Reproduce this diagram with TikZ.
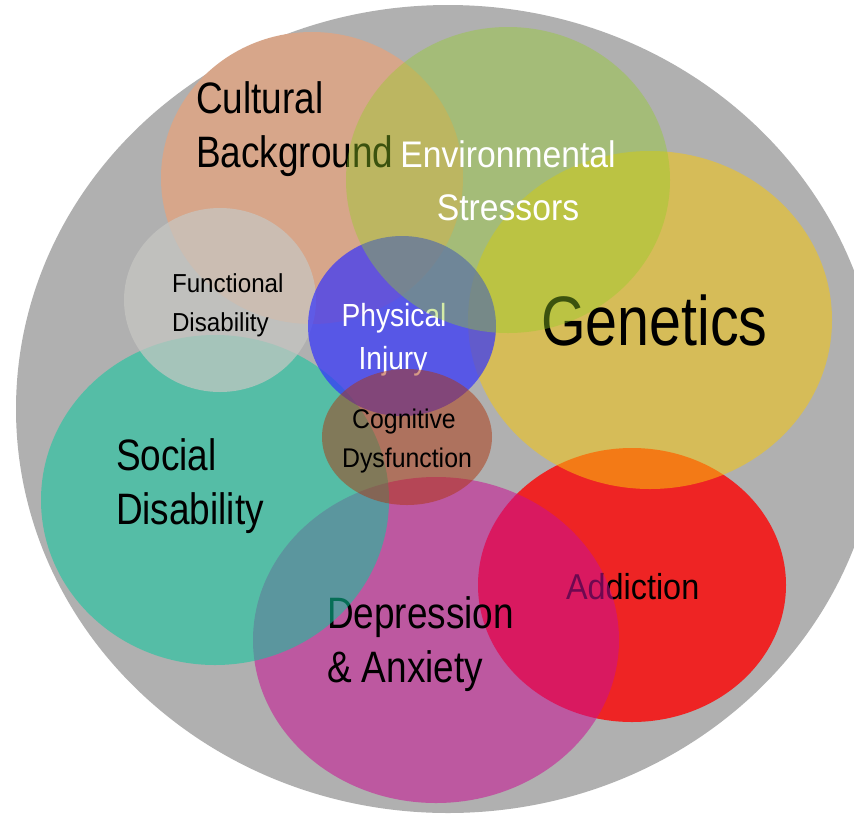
\documentclass[tikz,border=0pt]{standalone}
\usepackage{fontspec}
\setmainfont{Liberation Sans}
\usepackage{graphicx}
\definecolor{bggray}{RGB}{176,176,176}
\definecolor{addc}{RGB}{238,36,36}
\definecolor{depc}{RGB}{201,16,147}
\definecolor{socc}{RGB}{12,201,158}
\definecolor{genc}{RGB}{248,199,10}
\definecolor{culc}{RGB}{215,166,138}
\definecolor{func}{RGB}{199,199,195}
\definecolor{phyc}{RGB}{50,50,253}
\definecolor{envc}{RGB}{148,206,36}
\definecolor{cogc}{RGB}{174,54,14}
\tikzset{
  lbl/.style={inner sep=0pt, outer sep=0pt, text=black},
  lblw/.style={lbl, text=white},
  sz/.style={font=\fontsize{#1}{#1}\selectfont},
}
\begin{document}
\begin{tikzpicture}[x=1pt,y=-1pt]
\clip (0,0) rectangle (854,815);
\fill[white] (0,0) rectangle (854,815);
% outer gray
\fill[bggray] (448,409) ellipse [x radius=432, y radius=404];
% Addiction
\fill[addc] (632,585) ellipse [x radius=154, y radius=137];
\node[lbl, sz=36, anchor=base west] (add1) at (566,599) {\scalebox{0.9}[1]{Addiction}};
% Depression & Anxiety
\fill[depc, fill opacity=0.55] (436,640) ellipse [x radius=183, y radius=163];
\node[lbl, sz=44, anchor=base west] (dep1) at (327,628) {\scalebox{0.84}[1]{Depression}};
\node[lbl, sz=44, anchor=base west] (dep2) at (327,682) {\scalebox{0.84}[1]{\& Anxiety}};
% Social Disability
\fill[socc, fill opacity=0.55] (215,500) ellipse [x radius=174, y radius=165];
\node[lbl, sz=44, anchor=base west] (soc1) at (116,470) {\scalebox{0.84}[1]{Social}};
\node[lbl, sz=44, anchor=base west] (soc2) at (116,524) {\scalebox{0.84}[1]{Disability}};
% Genetics
\fill[genc, fill opacity=0.53] (650,320) ellipse [x radius=182, y radius=169];
\node[lbl, sz=70, anchor=base west] (gen1) at (541,345) {\scalebox{0.82}[1]{Genetics}};
% Cultural Background
\fill[culc] (312,178) ellipse [x radius=151, y radius=146];
\node[lbl, sz=44, anchor=base west] (cul1) at (196,113) {\scalebox{0.84}[1]{Cultural}};
\node[lbl, sz=44, anchor=base west] (cul2) at (196,167) {\scalebox{0.84}[1]{Background}};
% Functional Disability
\fill[func, fill opacity=0.7] (220,300) ellipse [x radius=96, y radius=92];
\node[lbl, sz=26, anchor=base west] (fun1) at (172,292) {\scalebox{0.93}[1]{Functional}};
\node[lbl, sz=26, anchor=base west] (fun2) at (172,331) {\scalebox{0.93}[1]{Disability}};
% Physical Injury
\fill[phyc, fill opacity=0.7] (402,326) ellipse [x radius=94, y radius=90];
\node[lblw, sz=32, anchor=base] (phy1) at (394,326) {\scalebox{0.88}[1]{Physical}};
\node[lblw, sz=32, anchor=base] (phy2) at (393,369) {\scalebox{0.88}[1]{Injury}};
% Environmental Stressors
\fill[envc, fill opacity=0.4] (508,180) ellipse [x radius=162, y radius=153];
\node[lblw, sz=37, anchor=base] (env1) at (508,167) {\scalebox{0.91}[1]{Environmental}};
\node[lblw, sz=37, anchor=base] (env2) at (508,220) {\scalebox{0.91}[1]{Stressors}};
% Cognitive Dysfunction
\fill[cogc, fill opacity=0.5] (407,437) ellipse [x radius=85, y radius=68];
\node[lbl, sz=27, anchor=base] (cog1) at (404,428) {\scalebox{0.92}[1]{Cognitive}};
\node[lbl, sz=27, anchor=base] (cog2) at (407,467) {\scalebox{0.92}[1]{Dysfunction}};
\end{tikzpicture}
\end{document}
